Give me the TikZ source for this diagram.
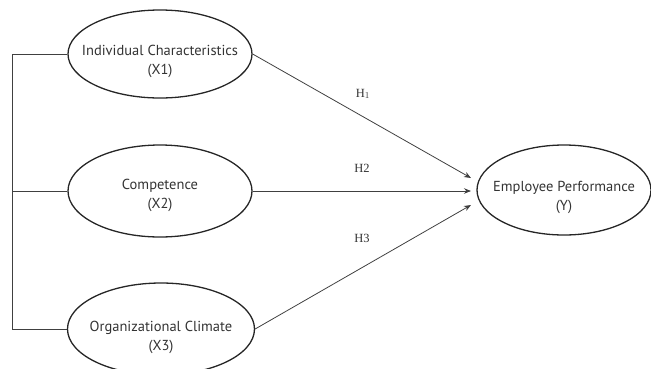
\documentclass[tikz,border=0pt]{standalone}
\usepackage{fontspec}
\setmainfont{Liberation Serif}
\newfontfamily\lblfont{PT Sans}
\usetikzlibrary{shapes.geometric,arrows.meta}
\begin{document}
\begin{tikzpicture}[x=1pt,y=-1pt,
  var/.style={ellipse,draw=black!85,line width=1.3pt,inner sep=0pt},
  txt/.style={align=center,font=\lblfont\fontsize{14.5}{19}\selectfont,text=black!80},
  link/.style={draw=black!75,line width=0.8pt},
  arr/.style={link,-{Stealth[length=7pt,width=5.5pt]}},
  hyp/.style={font=\fontsize{12.5}{14}\selectfont,text=black!80}]
\useasboundingbox (0,0) rectangle (651,368);
\node[var,minimum width=184pt,minimum height=88pt,
  label={[txt,yshift=-7pt]center:Individual Characteristics\\(X1)}] (x1) at (160,54) {};
\node[var,minimum width=184pt,minimum height=92pt,
  label={[txt,yshift=-4pt]center:Competence\\(X2)}] (x2) at (160,191) {};
\node[var,minimum width=187pt,minimum height=92pt,
  label={[txt,yshift=-8pt]center:Organizational Climate\\(X3)}] (x3) at (161,329) {};
\node[var,minimum width=174pt,minimum height=90pt,
  label={[txt,yshift=-7pt]center:Employee Performance\\(Y)}] (y) at (564,190) {};
\coordinate (b1) at (12,54);
\coordinate (b2) at (12,191);
\coordinate (b3) at (12,329);
\coordinate (t1) at (471,178);
\coordinate (t2) at (471,191);
\coordinate (t3) at (471,205);
\draw[link] (x1.west) -- (b1) -- (b3) -- (x3.west);
\draw[link] (b2) -- (x2.west);
\draw[arr] (x1.east) -- (t1);
\draw[arr] (x2.east) -- (t2);
\draw[arr] (x3.east) -- (t3);
\node[hyp] (h1) at (363,94) {H$_1$};
\node[hyp] (h2) at (362,168) {H2};
\node[hyp] (h3) at (362,238) {H3};
\end{tikzpicture}
\end{document}
